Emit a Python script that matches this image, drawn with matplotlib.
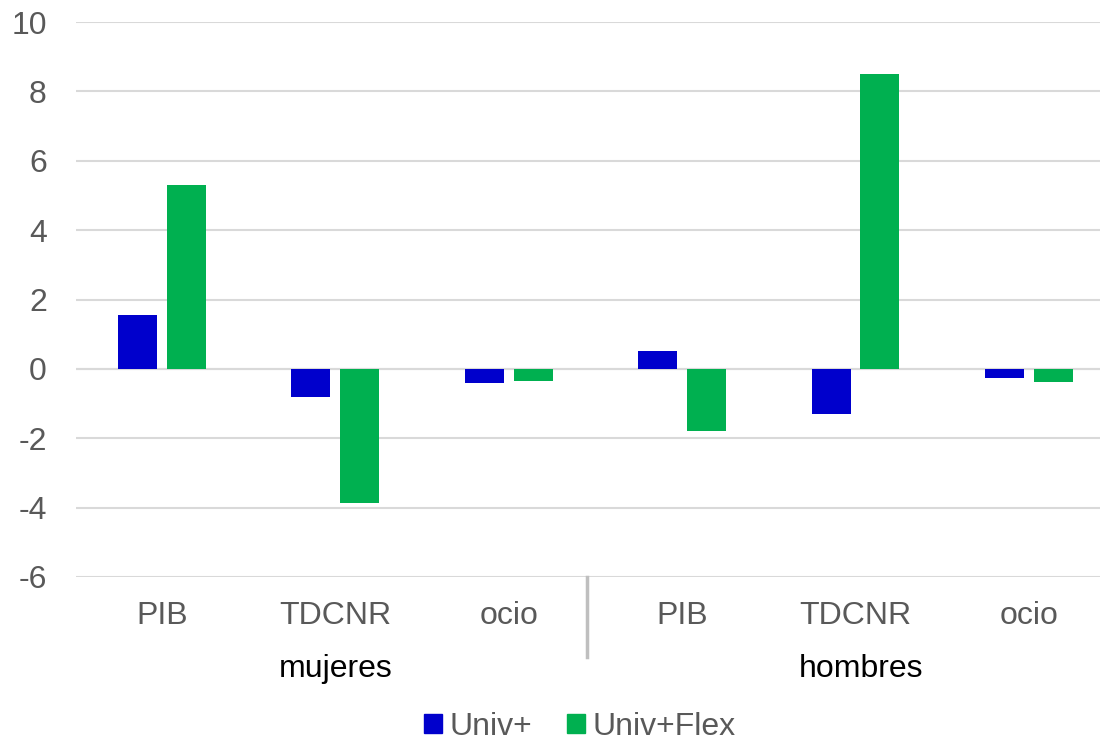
import matplotlib
matplotlib.use("Agg")

import numpy as np
import matplotlib.pyplot as plt
from matplotlib.patches import Patch

# data
categories = ["PIB", "TDCNR", "ocio", "PIB", "TDCNR", "ocio"]
groups = ["mujeres", "hombres"]
univ = [1.56, -0.81, -0.40, 0.52, -1.31, -0.25]
univ_flex = [5.30, -3.87, -0.35, -1.79, 8.50, -0.37]
series_names = ["Univ+", "Univ+Flex"]
yticks = [-6, -4, -2, 0, 2, 4, 6, 8, 10]

BLUE = "#0000CC"
GREEN = "#00B050"
GREY_TXT = "#595959"
GRID = "#D9D9D9"
FS = 23

plt.rcParams["font.family"] = ["Liberation Sans", "DejaVu Sans"]

fig = plt.figure(figsize=(11.04, 7.4), dpi=100)
ax = fig.add_axes([76 / 1104, 1 - 577 / 740, 1024 / 1104, 555 / 740])

x = np.arange(len(categories))
w = 0.225
off = 0.141
ax.bar(x - off, univ, width=w, color=BLUE, zorder=3)
ax.bar(x + off, univ_flex, width=w, color=GREEN, zorder=3)

ax.set_xlim(-0.496, 5.41)
ax.set_ylim(-6, 10)
ax.set_yticks(yticks)
ax.set_yticklabels([str(t) for t in yticks])
ax.yaxis.grid(True, color=GRID, linewidth=1.5, zorder=0)
ax.axhline(0, color=GRID, linewidth=1.5, zorder=1)
for s in ax.spines.values():
    s.set_visible(False)

ax.tick_params(axis="y", length=0, pad=21, labelsize=FS, labelcolor=GREY_TXT)
ax.set_xticks(x)
ax.set_xticklabels(categories)
ax.tick_params(axis="x", length=0, pad=17, labelsize=FS, labelcolor=GREY_TXT)

# group separator and group labels
ax.axvline(2.45, ymin=-0.145, ymax=0, color="#BFBFBF", linewidth=2.5, clip_on=False)
trans = ax.get_xaxis_transform()
for i, g in enumerate(groups):
    ax.text(1 + 3.03 * i, -0.165, g, transform=trans, ha="center", va="center",
            fontsize=FS, color="black")

handles = [Patch(color=BLUE), Patch(color=GREEN)]
fig.legend(handles, series_names, loc="center", bbox_to_anchor=(580 / 1104, 1 - 727 / 740),
           ncol=2, frameon=False, fontsize=FS, labelcolor=GREY_TXT,
           handlelength=0.55, handleheight=0.55, handletextpad=0.25, columnspacing=1.1)

fig.savefig("out.png", dpi=100)
